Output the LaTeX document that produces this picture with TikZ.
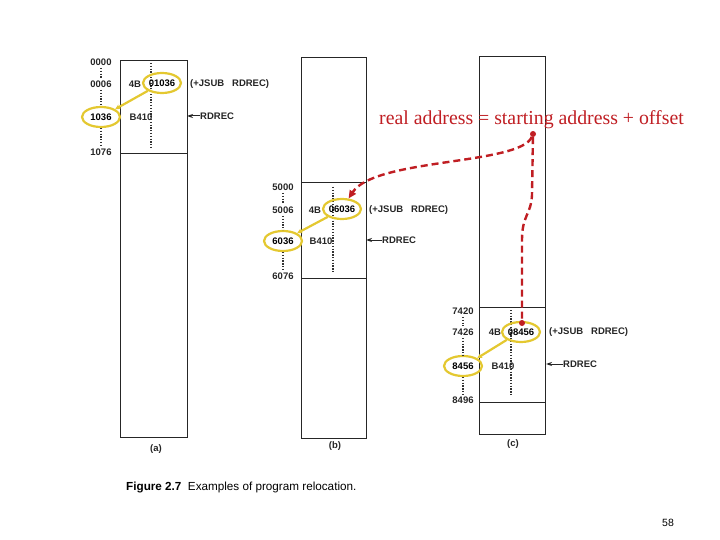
\documentclass[tikz,border=0pt]{standalone}
\usepackage{fontspec}
\setmainfont{Liberation Serif}
\setsansfont{Liberation Sans}
\usetikzlibrary{shapes.geometric,arrows.meta}
\definecolor{yel}{RGB}{228,200,48}
\definecolor{rd}{RGB}{192,30,35}
\begin{document}
\begin{tikzpicture}[x=1pt,y=-1pt,
  lbl/.style={font=\sffamily\fontsize{9.5}{10}\selectfont\bfseries, inner sep=0pt, text=black!85},
  mem/.style={draw=black!85, line width=0.9pt},
  dots/.style={line width=1.6pt, dash pattern=on 1.3pt off 1.5pt, black!80},
  yell/.style={draw=yel, line width=2.2pt, ellipse, minimum width=38pt, minimum height=20pt, inner sep=0pt, font=\sffamily\fontsize{9.5}{10}\selectfont\bfseries},
  yline/.style={draw=yel, line width=2.2pt, -{Stealth[length=5pt,width=5pt]}},
  rdash/.style={draw=rd, line width=2.4pt, dash pattern=on 7pt off 4pt},
  rdot/.style={circle, fill=rd, inner sep=0pt, minimum size=6pt},
  tip/.style={-{Stealth[length=6pt,width=4pt]}, line width=1pt, black!85}
]
\useasboundingbox (0,0) rectangle (720,540);
\fill[white] (0,0) rectangle (720,540);

% ---------- (a) ----------
\draw[mem] (120,60) rectangle (187,437);
\draw[mem] (120,153) -- (187,153);
\node[lbl] (a0) at (101,62) {0000};
\node[lbl] (a6) at (101,84) {0006};
\node[yell] (a2) at (101,117) {1036};
\node[lbl] (a76) at (101,152) {1076};
\draw[dots] (101,68) -- (101,78);
\draw[dots] (101,90) -- (101,106);
\draw[dots] (101,128) -- (101,146);
\draw[dots] (151,63) -- (151,148);
\node[lbl] (a4b) at (135,84) {4B};
\node[yell] (a1) at (162,83) {01036};
\node[lbl, anchor=west] (aj) at (190,84) {(+JSUB\ \ \ RDREC)};
\node[lbl] (ab) at (141,117) {B410};
\node[lbl, anchor=west] (ar) at (200,116) {RDREC};
\draw[tip] (ar.west) -- (187,116);
\draw[yline] (a1.south west) -- (a2.north east);
\node[lbl] (acap) at (156,449) {(a)};

% ---------- (b) ----------
\draw[mem] (301,57) rectangle (366,438);
\draw[mem] (301,182) -- (366,182);
\draw[mem] (301,278) -- (366,278);
\node[lbl] (b0) at (283,187) {5000};
\node[lbl] (b6) at (283,210) {5006};
\node[yell] (b2) at (283,241) {6036};
\node[lbl] (b76) at (283,276) {6076};
\draw[dots] (283,193) -- (283,204);
\draw[dots] (283,216) -- (283,230);
\draw[dots] (283,252) -- (283,270);
\draw[dots] (333,187) -- (333,272);
\node[lbl] (b4b) at (315,210) {4B};
\node[yell] (b1) at (342,209) {06036};
\node[lbl, anchor=west] (bj) at (369,210) {(+JSUB\ \ \ RDREC)};
\node[lbl] (bb) at (321,241) {B410};
\node[lbl, anchor=west] (br) at (382,240) {RDREC};
\draw[tip] (br.west) -- (366,240);
\draw[yline] (b1.south west) -- (b2.north east);
\node[lbl] (bcap) at (335,446) {(b)};

% ---------- (c) ----------
\draw[mem] (479,56) rectangle (545,434);
\draw[mem] (479,307) -- (545,307);
\draw[mem] (479,402) -- (545,402);
\node[lbl] (c0) at (463,311) {7420};
\node[lbl] (c6) at (463,332) {7426};
\node[yell] (c2) at (463,366) {8456};
\node[lbl] (c76) at (463,400) {8496};
\draw[dots] (463,317) -- (463,326);
\draw[dots] (463,338) -- (463,355);
\draw[dots] (463,377) -- (463,394);
\draw[dots] (511,310) -- (511,396);
\node[lbl] (c4b) at (495,332) {4B};
\node[yell] (c1) at (521,332) {08456};
\node[lbl, anchor=west] (cj) at (549,332) {(+JSUB\ \ \ RDREC)};
\node[lbl] (cb) at (503,366) {B410};
\node[lbl, anchor=west] (cr) at (563,364) {RDREC};
\draw[tip] (cr.west) -- (546,364);
\draw[yline] (c1.south west) -- (c2.north east);
\node[lbl] (ccap) at (513,444) {(c)};

% ---------- caption ----------
\node[anchor=west, inner sep=0pt, font=\sffamily\fontsize{11.7}{14}\selectfont] (fig) at (126,487) {\textbf{Figure 2.7}\ \ Examples of program relocation.};
\node[inner sep=0pt, font=\sffamily\fontsize{10.5}{12}\selectfont] (pg) at (668,523) {58};

% ---------- red annotation ----------
\node[anchor=west, inner sep=0pt, text=rd, font=\fontsize{19.8}{22}\selectfont] (eq) at (379,120) {real address = starting address + offset};
\node[rdot] (s) at (533,134) {};
\node[rdot] (e) at (522,323) {};
\draw[rdash, -{Triangle[length=8pt,width=7pt]}] (s) .. controls (520,165) and (375,158) .. (b1.58);
\draw[rdash] (s) -- (532,195) .. controls (531,215) and (522,215) .. (522,240) -- (e);
\end{tikzpicture}
\end{document}
